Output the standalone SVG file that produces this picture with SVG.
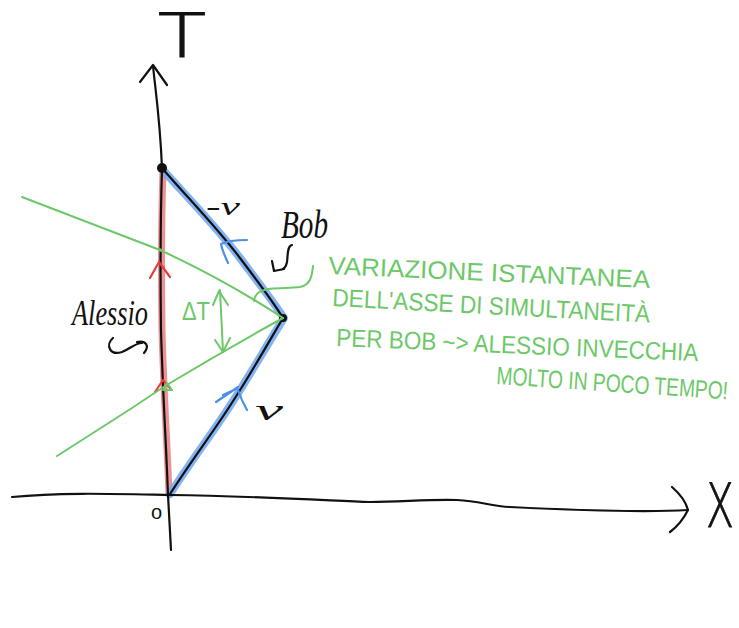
<svg xmlns="http://www.w3.org/2000/svg" width="739" height="628" viewBox="0 0 739 628">
<style>
.ink{fill:none;stroke:#111;stroke-width:2.2;stroke-linecap:round;stroke-linejoin:round}
.grn{fill:none;stroke:#6cc868;stroke-width:2;stroke-linecap:round;stroke-linejoin:round}
.blu{fill:none;stroke:#4d8fe6;stroke-width:2.2;stroke-linecap:round;stroke-linejoin:round}
.red{fill:none;stroke:#e53c3c;stroke-width:2.2;stroke-linecap:round;stroke-linejoin:round}
.band-r{fill:none;stroke:#ea8688;stroke-width:7;stroke-linecap:round;opacity:.9}
.band-b{fill:none;stroke:#6fa6ee;stroke-width:8;stroke-linecap:round;stroke-linejoin:round;opacity:.85}
.hand{font-family:"Liberation Serif",serif;font-style:italic;fill:#111}
.plain{font-family:"Liberation Sans",sans-serif;fill:#111}
.axl{font-family:"DejaVu Sans",sans-serif;font-weight:200;fill:#111;stroke:#111;stroke-width:1}
.note{font-family:"Liberation Sans",sans-serif;font-size:25px;fill:#6cc868}
</style>
<rect width="739" height="628" fill="#fff"/>

<g id="bands">
<path class="band-r" d="M169,494 C167,440 164,400 162,330 C161,260 162,200 163,170"/>
<path class="band-b" d="M163,170 C185,195 215,225 240,258 C258,282 272,300 284,318 C270,340 250,375 235,398 C215,430 195,455 170,494"/>
</g>

<g id="axes">
<path class="ink" d="M12,497 C60,492 120,494 170,495 C250,496 320,500 370,502 C400,502 430,499 457,500 C480,501 490,506 510,507 C570,510 640,513 688,510"/>
<path class="ink" d="M672,487 C680,494 686,502 688,510 C684,518 678,526 670,532"/>
<path class="ink" d="M171,550 L168,495 C166,440 163,400 161,330 C160,260 161,200 162,168 C160,120 156,95 153,66"/>
<path class="ink" d="M140,82 L153,65 L167,85"/>
<text class="axl" x="158" y="57" font-size="60" textLength="48" lengthAdjust="spacingAndGlyphs">T</text>
<text class="axl" transform="translate(706 527) scale(0.68 1)" x="0" y="0" font-size="60">X</text>
<text class="plain" x="151" y="519" font-size="20">o</text>
</g>

<g id="worldlines">
<path class="ink" d="M162,168 C185,195 215,225 240,258 C258,282 272,300 283,318 C270,340 250,375 235,398 C215,430 195,455 170,494"/>
<circle cx="162" cy="168" r="5" fill="#111"/>
<circle cx="283" cy="318" r="4" fill="#111"/>
<path class="red" d="M150,278 L159,262 L170,277"/>
<path class="red" d="M155,392 L163,380 L170,388"/>
<path class="blu" d="M247,240 C238,240 227,241 221,244 C222,250 225,256 228,263"/>
<path class="blu" d="M216,402 L238,387 M223,395 L236,389 M238,390 C240,396 243,403 247,410"/>
</g>

<g id="simultaneity">
<path class="grn" d="M22,197 L160,250 Q225,280 283,318"/>
<path class="grn" d="M57,456 L132,408 L165,386 Q225,350 283,318"/>
<circle cx="160" cy="250" r="1.8" fill="#6cc868"/>
<path class="grn" d="M163,390 L167,383 L172,390 Z"/>
<path class="grn" d="M220,290 C221,310 222,330 223,352"/>
<path class="grn" d="M213,305 L219,291 L228,305 M215,340 L223,352 L230,338"/>
<text class="note" x="182" y="320" textLength="28" lengthAdjust="spacingAndGlyphs">ΔT</text>
<path class="grn" d="M313,266 C312,275 311,285 300,287 C285,289 268,286 258,293 C255,296 254,298 254,301"/>
</g>

<g id="labels">
<text class="hand" x="72" y="325" font-size="36" textLength="76" lengthAdjust="spacingAndGlyphs">Alessio</text>
<path class="ink" d="M113,338 C105,345 110,356 122,352 C130,349 135,343 142,343 M137,342 C146,340 150,346 144,353"/>
<text class="hand" x="281" y="238" font-size="40" textLength="47" lengthAdjust="spacingAndGlyphs">Bob</text>
<path class="ink" d="M292,245 C287,246 288,255 287,262 C286,268 283,270 279,270 M272,261 L274,271 L284,269"/>
<text class="hand" x="206" y="215" font-size="26" textLength="34" lengthAdjust="spacingAndGlyphs">-v</text>
<text class="hand" x="255" y="420" font-size="30" textLength="28" lengthAdjust="spacingAndGlyphs">v</text>
</g>

<g id="note">
<text class="note" transform="rotate(2.5 328 274)" x="328" y="274" textLength="322" lengthAdjust="spacingAndGlyphs">VARIAZIONE ISTANTANEA</text>
<text class="note" transform="rotate(3 332 306)" x="332" y="306" textLength="318" lengthAdjust="spacingAndGlyphs">DELL'ASSE DI SIMULTANEITÀ</text>
<text class="note" transform="translate(336 346) rotate(2.4) scale(0.9 1)" x="0" y="0">PER BOB ~&gt; ALESSIO INVECCHIA</text>
<text class="note" transform="translate(496 384) rotate(3.8) scale(0.77 1)" x="0" y="0">MOLTO IN POCO TEMPO!</text>
</g>
</svg>
